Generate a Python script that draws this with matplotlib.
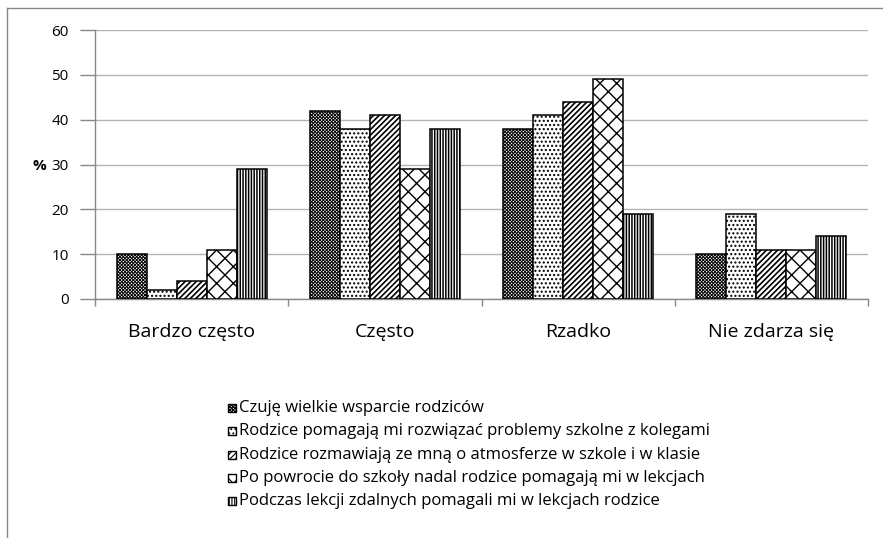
import matplotlib
matplotlib.use("Agg")
import matplotlib.pyplot as plt
from matplotlib.patches import Rectangle
from matplotlib.lines import Line2D
import numpy as np

categories = ["Bardzo często", "Często", "Rzadko", "Nie zdarza się"]
series_labels = [
    "Czuję wielkie wsparcie rodziców",
    "Rodzice pomagają mi rozwiązać problemy szkolne z kolegami",
    "Rodzice rozmawiają ze mną o atmosferze w szkole i w klasie",
    "Po powrocie do szkoły nadal rodzice pomagają mi w lekcjach",
    "Podczas lekcji zdalnych pomagali mi w lekcjach rodzice",
]
wsparcie = [10, 42, 38, 10]
koledzy = [2, 38, 41, 19]
atmosfera = [4, 41, 44, 11]
po_powrocie = [11, 29, 49, 11]
zdalne = [29, 38, 19, 14]
values = [wsparcie, koledzy, atmosfera, po_powrocie, zdalne]
y_ticks = [0, 10, 20, 30, 40, 50, 60]

hatches = ["xxxxxxxxxx", "....", "//////", "xx", "||||||"]
hatch_lw = [0.7, 1.0, 1.2, 1.0, 1.1]

plt.rcParams["font.family"] = ["Open Sans", "DejaVu Sans"]

W, H = 883, 538
fig = plt.figure(figsize=(W / 100, H / 100), dpi=100)

def fx(px):
    return px / W

def fy(py):
    return (H - py) / H

ax = fig.add_axes([fx(95), fy(299), fx(868) - fx(95), fy(30) - fy(299)])

x = np.arange(len(categories))
bw = 0.155
for i, (vals, h, hl) in enumerate(zip(values, hatches, hatch_lw)):
    with plt.rc_context({"hatch.linewidth": hl}):
        bars = ax.bar(x + (i - 2) * bw, vals, width=bw, facecolor="white",
                      edgecolor="black", linewidth=1.1, hatch=h, zorder=3)
        for b in bars:
            if hasattr(b, "set_hatch_linewidth"):
                b.set_hatch_linewidth(hl)

ax.set_xlim(-0.5, len(categories) - 0.5)
ax.set_ylim(0, 60)
ax.set_yticks(y_ticks)
ax.set_yticklabels([str(t) for t in y_ticks], fontsize=11)
ax.yaxis.grid(True, color="#b3b3b3", linewidth=1.0, zorder=0)
ax.set_axisbelow(True)

ax.set_xticks(x)
ax.set_xticklabels(categories, fontsize=14)
ax.set_xticks(np.arange(-0.5, len(categories)), minor=True)
ax.tick_params(axis="x", which="major", length=0, pad=17)
ax.tick_params(axis="x", which="minor", length=5, color="#888888", width=1)
ax.tick_params(axis="y", length=11, color="#888888", width=1, pad=8)

for s in ["top", "right"]:
    ax.spines[s].set_visible(False)
for s in ["left", "bottom"]:
    ax.spines[s].set_color("#888888")
    ax.spines[s].set_linewidth(1.0)

fig.text(fx(39), fy(166), "%", fontsize=11, fontweight="bold",
         ha="center", va="center")

# chart frame (top and left edges)
fig.add_artist(Line2D([fx(7), 1.0], [fy(8), fy(8)], color="#888888", lw=1.0))
fig.add_artist(Line2D([fx(7), fx(7)], [fy(8), 0.0], color="#888888", lw=1.0))

# legend entries
row_y = [408, 431, 455, 478, 501]
for lab, h, ry in zip(series_labels, hatches, row_y):
    with plt.rc_context({"hatch.linewidth": 0.8}):
        fig.add_artist(Rectangle((fx(228), fy(ry + 4)), fx(8), fy(ry - 4) - fy(ry + 4),
                                 facecolor="white", edgecolor="black", lw=1.0,
                                 hatch=h, transform=fig.transFigure))
    fig.text(fx(239), fy(ry), lab, fontsize=12, ha="left", va="center")

fig.savefig("out.png", dpi=100)
